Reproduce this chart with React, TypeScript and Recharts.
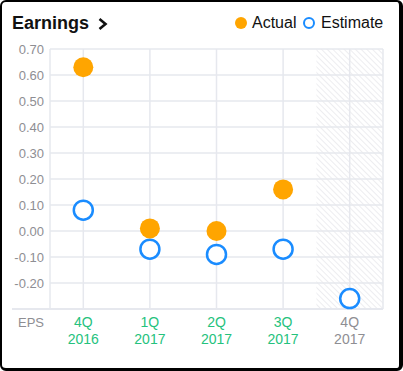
import { LineChart, Line, XAxis, YAxis, CartesianGrid, ReferenceArea } from "recharts";

const quarters = ["4Q", "1Q", "2Q", "3Q", "4Q"];
const years = ["2016", "2017", "2017", "2017", "2017"];
const actual = [0.63, 0.01, 0.0, 0.16, null];
const estimate = [0.08, -0.07, -0.09, -0.07, -0.26];
const reported = [true, true, true, true, false];
const yTicks = [-0.3, -0.2, -0.1, 0, 0.1, 0.2, 0.3, 0.4, 0.5, 0.6, 0.7];

const data = quarters.map((q, i) => ({
  key: `${q} ${years[i]}`,
  q,
  year: years[i],
  actual: actual[i],
  estimate: estimate[i],
  reported: reported[i],
}));

const FONT = "'Liberation Sans', Arial, Helvetica, sans-serif";
const GREEN = "#25c27d";
const GREY = "#8e8e93";
const ORANGE = "#ffa500";
const BLUE = "#1a8cff";
const GRID = "#e6e8ee";

const XTick = (props: any) => {
  const { x, y, payload, index } = props;
  const row = data[index] ?? data.find((d) => d.key === payload.value);
  const color = row && row.reported ? GREEN : GREY;
  return (
    <text x={x} y={y} textAnchor="middle" fill={color} fontSize={14} fontFamily={FONT}>
      <tspan x={x} dy={18}>{row?.q}</tspan>
      <tspan x={x} dy={17}>{row?.year}</tspan>
    </text>
  );
};

const YTick = (props: any) => {
  const { x, y, payload } = props;
  if (Math.abs(payload.value + 0.3) < 1e-6) {
    return (
      <g>
        <line x1={x - 32} x2={x + 7} y1={y} y2={y} stroke={GRID} strokeWidth={2} />
        <text x={x} y={y + 18} textAnchor="end" fill={GREY} fontSize={13} fontFamily={FONT}>
          EPS
        </text>
      </g>
    );
  }
  return (
    <text x={x} y={y} dy={4.5} textAnchor="end" fill={GREY} fontSize={13} fontFamily={FONT}>
      {payload.value.toFixed(2)}
    </text>
  );
};

const ActualDot = (props: any) => {
  const { cx, cy, value, index } = props;
  if (value == null || cy == null) return <g key={`a-${index}`} />;
  return <circle key={`a-${index}`} cx={cx} cy={cy} r={10} fill={ORANGE} />;
};

const EstimateDot = (props: any) => {
  const { cx, cy, value, index } = props;
  if (value == null || cy == null) return <g key={`e-${index}`} />;
  return (
    <circle key={`e-${index}`} cx={cx} cy={cy} r={9.5} fill="#fff" stroke={BLUE} strokeWidth={2.5} />
  );
};

export default function App() {
  return (
    <div
      style={{
        position: "fixed",
        left: 0,
        top: 0,
        width: 403,
        height: 371,
        boxSizing: "border-box",
        borderStyle: "solid",
        borderColor: "#000",
        borderWidth: "2px 4px 3px 2px",
        borderRadius: 6,
        background: "#fff",
        fontFamily: FONT,
      }}
    >
      <div
        style={{
          position: "absolute",
          left: 10,
          top: 12,
          fontSize: 18,
          lineHeight: "18px",
          fontWeight: "bold",
          color: "#111",
        }}
      >
        Earnings
      </div>
      <svg style={{ position: "absolute", left: 94, top: 14 }} width={14} height={16}>
        <polyline points="3.5,3 9.5,8 3.5,13" fill="none" stroke="#111" strokeWidth={2.6} />
      </svg>
      <div
        style={{
          position: "absolute",
          left: 233,
          top: 14.7,
          width: 12,
          height: 12,
          borderRadius: 6,
          background: ORANGE,
        }}
      />
      <div style={{ position: "absolute", left: 250, top: 13, fontSize: 16, lineHeight: "16px", color: "#111" }}>
        Actual
      </div>
      <div
        style={{
          position: "absolute",
          left: 301,
          top: 14.7,
          width: 12,
          height: 12,
          boxSizing: "border-box",
          borderRadius: 6,
          border: `2px solid ${BLUE}`,
        }}
      />
      <div style={{ position: "absolute", left: 319, top: 13, fontSize: 16, lineHeight: "16px", color: "#111" }}>
        Estimate
      </div>
      <div style={{ position: "absolute", left: 0, top: 0 }}>
        <LineChart
          width={397}
          height={366}
          data={data}
          margin={{ top: 47, right: 16, bottom: 19, left: 0 }}
        >
          <defs>
            <pattern id="hatch" width="4" height="4" patternUnits="userSpaceOnUse" patternTransform="rotate(-45)">
              <line x1="0" y1="0" x2="0" y2="4" stroke="#e9e9ed" strokeWidth={1.6} />
            </pattern>
          </defs>
          <ReferenceArea
            x1="4Q 2017"
            x2="4Q 2017"
            y1={-0.3}
            y2={0.7}
            fill="url(#hatch)"
            fillOpacity={1}
            stroke="none"
            ifOverflow="visible"
          />
          <CartesianGrid stroke={GRID} strokeWidth={1.5} />
          <XAxis
            dataKey="key"
            type="category"
            scale="band"
            tickLine={false}
            tickSize={0}
            tickMargin={0}
            axisLine={{ stroke: GRID, strokeWidth: 2 }}
            tick={<XTick />}
            interval={0}
            height={40}
          />
          <YAxis
            type="number"
            domain={[-0.3, 0.7]}
            ticks={yTicks}
            width={48}
            tickLine={false}
            tickSize={0}
            tickMargin={6}
            axisLine={false}
            tick={<YTick />}
            interval={0}
          />
          <Line
            dataKey="estimate"
            stroke="none"
            dot={(p: any) => <EstimateDot {...p} />}
            activeDot={false}
            isAnimationActive={false}
            connectNulls={false}
          />
          <Line
            dataKey="actual"
            stroke="none"
            dot={(p: any) => <ActualDot {...p} />}
            activeDot={false}
            isAnimationActive={false}
            connectNulls={false}
          />
        </LineChart>
      </div>
    </div>
  );
}
